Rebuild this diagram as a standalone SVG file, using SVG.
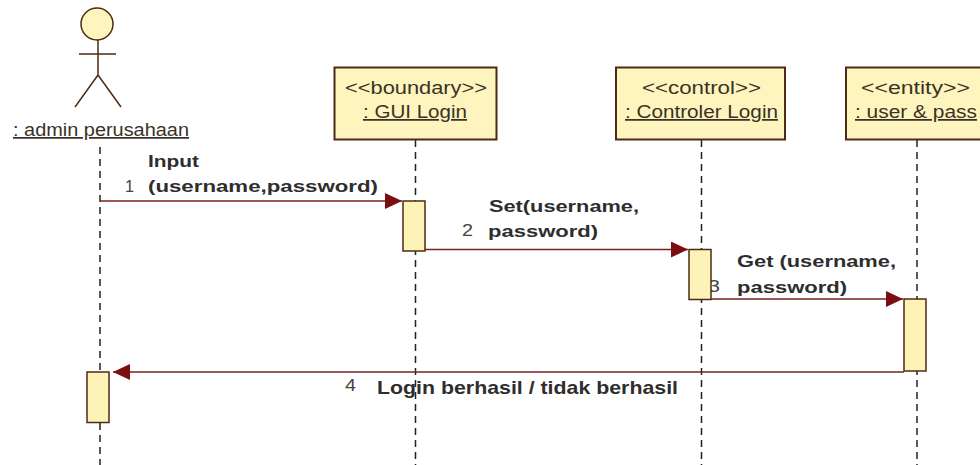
<svg xmlns="http://www.w3.org/2000/svg" width="980" height="465" viewBox="0 0 980 465">
<style>
text{font-family:"Liberation Sans",Arial,sans-serif;fill:#2e2e2e}
.n{font-size:17.500px;fill:#3a3226}
.u{text-decoration:underline}
.b{font-size:17px;font-weight:bold}
.l{font-size:19px;font-weight:bold}
.s{font-size:17px;fill:#444}
.box{fill:#fdf5bd;stroke:#4e2a14;stroke-width:2}
.act{fill:#fdf3b6;stroke:#4e2a14;stroke-width:1.5}
.life{stroke:#222;stroke-width:1.5;stroke-dasharray:7 5;fill:none}
.msg{stroke:#7a2020;stroke-width:1.6;fill:none}
.fig{stroke:#4e2a14;stroke-width:1.5;fill:none}
</style>
<defs>
<marker id="ah" markerUnits="userSpaceOnUse" markerWidth="18" markerHeight="18" refX="17" refY="8" orient="auto"><path d="M0 0L17 8L0 16Z" fill="#7b0f0f"/></marker>
</defs>
<g id="lifelines">
<path class="life" d="M100 147V465"/>
<path class="life" d="M415.500 140V465"/>
<path class="life" d="M701.500 140V465"/>
<path class="life" d="M917 140V465"/>
</g>
<g id="actor-admin">
<circle cx="97" cy="24" r="16" fill="#fdf5bd" stroke="#4e2a14" stroke-width="1.500"/>
<path class="fig" d="M98 40V75M79 54H116M98 75L75 107M98 75L121 107"/>
<text class="n u" x="13" y="136" textLength="176" lengthAdjust="spacingAndGlyphs">: admin perusahaan</text>
</g>
<g id="node-gui">
<rect class="box" x="334.500" y="67.500" width="162" height="72"/>
<text class="n" x="345" y="94" textLength="142" lengthAdjust="spacingAndGlyphs">&lt;&lt;boundary&gt;&gt;</text>
<text class="n u" x="363" y="118" textLength="104" lengthAdjust="spacingAndGlyphs">: GUI Login</text>
</g>
<g id="node-control">
<rect class="box" x="616" y="67.500" width="169" height="72"/>
<text class="n" x="642" y="94" textLength="119" lengthAdjust="spacingAndGlyphs">&lt;&lt;control&gt;&gt;</text>
<text class="n u" x="625" y="118" textLength="153" lengthAdjust="spacingAndGlyphs">: Controler Login</text>
</g>
<g id="node-entity">
<rect class="box" x="846" y="67.500" width="136" height="72"/>
<text class="n" x="861" y="94" textLength="109" lengthAdjust="spacingAndGlyphs">&lt;&lt;entity&gt;&gt;</text>
<text class="n u" x="855" y="118" textLength="122" lengthAdjust="spacingAndGlyphs">: user &amp; pass</text>
</g>
<g id="labels-under">
<text class="s" x="708" y="292" textLength="12" lengthAdjust="spacingAndGlyphs">3</text>
</g>
<g id="activations">
<rect class="act" x="403" y="201" width="22" height="50"/>
<rect class="act" x="689" y="249.500" width="22" height="50"/>
<rect class="act" x="904" y="299" width="22" height="72"/>
<rect class="act" x="87" y="372" width="22" height="50.500"/>
</g>
<g id="connectors">
<path class="msg" d="M100 201H402" marker-end="url(#ah)"/>
<path class="msg" d="M425 249.500H688" marker-end="url(#ah)"/>
<path class="msg" d="M711 299H903" marker-end="url(#ah)"/>
<path class="msg" d="M904 372H113" marker-end="url(#ah)"/>
</g>
<g id="labels">
<text class="b" x="148" y="167" textLength="51" lengthAdjust="spacingAndGlyphs">Input</text>
<text class="s" x="125" y="192" textLength="9" lengthAdjust="spacingAndGlyphs">1</text>
<text class="b" x="148" y="192" textLength="230" lengthAdjust="spacingAndGlyphs">(username,password)</text>
<text class="b" x="489" y="212" textLength="150" lengthAdjust="spacingAndGlyphs">Set(username,</text>
<text class="s" x="462" y="236" textLength="11" lengthAdjust="spacingAndGlyphs">2</text>
<text class="b" x="488" y="237" textLength="110" lengthAdjust="spacingAndGlyphs">password)</text>
<text class="b" x="737" y="267" textLength="159" lengthAdjust="spacingAndGlyphs">Get (username,</text>
<text class="b" x="737" y="293" textLength="110" lengthAdjust="spacingAndGlyphs">password)</text>
<text class="s" x="345" y="391" textLength="11" lengthAdjust="spacingAndGlyphs">4</text>
<text class="l" x="377" y="394" textLength="301" lengthAdjust="spacingAndGlyphs">Login berhasil / tidak berhasil</text>
</g>
</svg>
